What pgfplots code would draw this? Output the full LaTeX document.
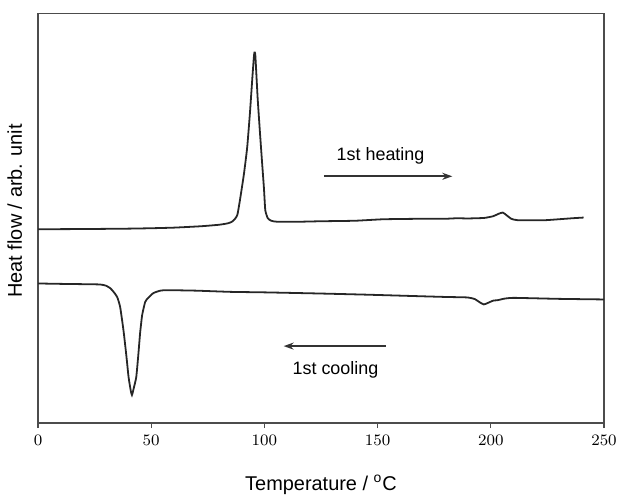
\documentclass[border=0pt]{standalone}
\usepackage{fontspec}
\setmainfont{Liberation Sans}
\usepackage{pgfplots}
\pgfplotsset{compat=1.18}
\usetikzlibrary{arrows.meta}

\begin{document}
\begin{tikzpicture}
\begin{axis}[scale only axis, width=283bp, height=204.75bp,
  xmin=0, xmax=250, ymin=0, ymax=410,
  xtick={0,50,...,250}, ytick=\empty, xtick pos=bottom, tick align=outside,
  major tick length=2.5bp,
  axis line style={black!70, line width=0.6pt},
  every tick/.style={black!70, line width=0.6pt},
  tick label style={font=\fontsize{8.5}{10}\selectfont},
  xlabel={Temperature / \textsuperscript{o}C},
  ylabel={Heat flow / arb. unit},
  label style={font=\normalsize},
  x label style={at={(axis description cs:0.5,-0.151)}, anchor=center},
  y label style={at={(axis description cs:-0.041,0.518)}, anchor=center},
]
  % 1st heating
  \addplot[black!85, line width=0.9pt, smooth, tension=0.3] coordinates {
    (0,194) (20,194.2) (40,194.6) (50,195) (60,195.6) (72,197) (80,198.5)
    (84,200) (86,202) (88,208) (89.4,226) (91,250) (92.4,276) (93.6,310)
    (94.6,343) (95.3,365) (95.6,371) (96.0,368) (97.0,326) (98,292) (99,260)
    (99.8,235) (100.4,213) (101.5,205) (103,202.5) (105.6,201.5) (115,201.5)
    (125,202) (140,202.5) (152.7,204) (170,204.5) (180,204.5) (185,205)
    (190,204.8) (197,205.3) (201,207) (203.5,209.5) (205.3,210.7) (207,208)
    (209,204.5) (212,203) (223.5,203) (230,204) (236,205) (241,205.7)};
  % 1st cooling
  \addplot[black!85, line width=0.9pt, smooth, tension=0.3] coordinates {
    (0,139.7) (10,139.3) (20,139) (27.4,138.7) (30,137.5) (31.9,135) (33.5,131)
    (35,126) (36.3,116) (37.8,92) (39,68) (40,46) (41,32) (41.5,28) (42.2,34) (43.4,46)
    (44.3,68) (45.1,90) (46,108) (47.3,121) (48.1,124) (50.9,130) (54,132.5)
    (57.1,133) (70,132.5) (85,131.3) (100,130.8) (123.5,129.7) (145,128.5)
    (167.7,127) (180,126.2) (189.8,125.7) (193,124) (195,121) (196.9,118.7)
    (199,120.5) (201,122.5) (203.1,123) (206,124.5) (210.2,125.3) (230,124.3)
    (250,123.7)};

  \draw[black!80, line width=0.9pt, -{Stealth[length=5bp,width=3.5bp]}]
    (axis cs:126.3,247) -- (axis cs:183,247);
  \node[font=\small] at (axis cs:151.3,267) {1st heating};
  \draw[black!80, line width=0.9pt, -{Stealth[length=5bp,width=3.5bp]}]
    (axis cs:153.5,77) -- (axis cs:108.5,77);
  \node[font=\small] at (axis cs:131.4,53.7) {1st cooling};
\end{axis}
\pgfresetboundingbox
\useasboundingbox (-19bp,-36bp) rectangle (290bp,211.5bp);
\end{tikzpicture}
\end{document}
